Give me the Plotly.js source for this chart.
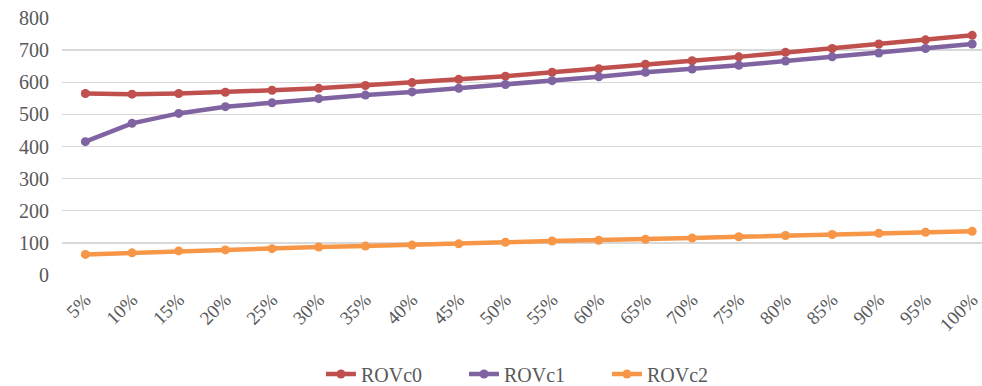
<!DOCTYPE html>
<html>
<head>
<meta charset="utf-8">
<script src="https://cdn.plot.ly/plotly-3.0.1.min.js"></script>
<style>
  html, body { margin: 0; padding: 0; background: #fff; }
  #chart { width: 982px; height: 386px; }
</style>
</head>
<body>
<div id="chart"></div>
<script>
// Sampling ratios along the x axis
const categories = ['5%','10%','15%','20%','25%','30%','35%','40%','45%','50%',
                    '55%','60%','65%','70%','75%','80%','85%','90%','95%','100%'];

// Series values
const rovc0 = [565, 563, 565, 569, 575, 581, 590, 599, 609, 619,
               631, 642, 656, 667, 679, 693, 705, 719, 732, 746];
const rovc1 = [415, 472, 503, 524, 536, 549, 560, 570, 581, 593,
               605, 617, 631, 641, 653, 666, 679, 691, 705, 719];
const rovc2 = [64, 69, 75, 78, 82, 87, 90, 93, 97, 102,
               106, 108, 111, 115, 119, 123, 126, 130, 133, 136];

const yTicks = [0, 100, 200, 300, 400, 500, 600, 700, 800];

const serif = 'Liberation Serif';
const textColor = '#595959';

function series(name, values, color) {
  return {
    type: 'scatter',
    mode: 'lines+markers',
    name: name,
    x: categories,
    y: values,
    line: { color: color, width: 4.5 },
    marker: { color: color, size: 9 }
  };
}

const data = [
  series('ROVc0', rovc0, '#C0504D'),
  series('ROVc1', rovc1, '#8064A2'),
  series('ROVc2', rovc2, '#F79646')
];

const layout = {
  width: 982,
  height: 386,
  margin: { l: 62, r: 0, t: 18, b: 111, autoexpand: false },
  paper_bgcolor: '#ffffff',
  plot_bgcolor: '#ffffff',
  font: { family: serif, color: textColor, size: 19 },
  showlegend: true,
  legend: {
    orientation: 'h',
    x: 0.2815,
    xanchor: 'left',
    yref: 'container',
    y: 0.031,
    yanchor: 'middle',
    font: { family: serif, color: textColor, size: 20 },
    itemwidth: 30,
    entrywidth: 98,
    entrywidthmode: 'pixels'
  },
  xaxis: {
    type: 'category',
    range: [-0.5, 19.21],
    tickangle: -45,
    automargin: false,
    showgrid: false,
    zeroline: false,
    showline: false,
    ticks: '',
    ticklabelstandoff: 9,
    tickfont: { family: serif, color: textColor, size: 19 }
  },
  yaxis: {
    range: [0, 800],
    tickvals: yTicks,
    automargin: false,
    showgrid: true,
    gridcolor: '#d9d9d9',
    gridwidth: 1.3,
    zeroline: false,
    showline: false,
    ticks: '',
    ticklabelstandoff: 12,
    tickfont: { family: serif, color: textColor, size: 20 }
  }
};

Plotly.newPlot('chart', data, layout, { displayModeBar: false, staticPlot: true });
</script>
</body>
</html>
